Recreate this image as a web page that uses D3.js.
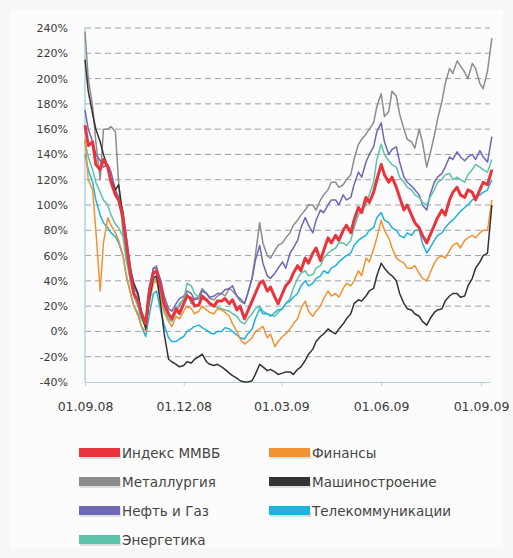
<!DOCTYPE html>
<html>
<head>
<meta charset="utf-8">
<script src="https://cdn.jsdelivr.net/npm/d3@7"></script>
<style>
  body { margin: 0; background: #f8f7f6; }
  svg { display: block; font-family: "DejaVu Sans", Verdana, sans-serif; }
</style>
</head>
<body>
<svg id="chart" width="513" height="558"></svg>
<script>
// Twice-weekly dates (Mon / Thu), last one is the final day on the chart
const dates = [
    '2008-09-01','2008-09-04','2008-09-08','2008-09-11','2008-09-15','2008-09-18','2008-09-22','2008-09-25','2008-09-29','2008-10-02',
    '2008-10-06','2008-10-09','2008-10-13','2008-10-16','2008-10-20','2008-10-23','2008-10-27','2008-10-30','2008-11-03','2008-11-06',
    '2008-11-10','2008-11-13','2008-11-17','2008-11-20','2008-11-24','2008-11-27','2008-12-01','2008-12-04','2008-12-08','2008-12-11',
    '2008-12-15','2008-12-18','2008-12-22','2008-12-25','2008-12-29','2009-01-01','2009-01-05','2009-01-08','2009-01-12','2009-01-15',
    '2009-01-19','2009-01-22','2009-01-26','2009-01-29','2009-02-02','2009-02-05','2009-02-09','2009-02-12','2009-02-16','2009-02-19',
    '2009-02-23','2009-02-26','2009-03-02','2009-03-05','2009-03-09','2009-03-12','2009-03-16','2009-03-19','2009-03-23','2009-03-26',
    '2009-03-30','2009-04-02','2009-04-06','2009-04-09','2009-04-13','2009-04-16','2009-04-20','2009-04-23','2009-04-27','2009-04-30',
    '2009-05-04','2009-05-07','2009-05-11','2009-05-14','2009-05-18','2009-05-21','2009-05-25','2009-05-28','2009-06-01','2009-06-04',
    '2009-06-08','2009-06-11','2009-06-15','2009-06-18','2009-06-22','2009-06-25','2009-06-29','2009-07-02','2009-07-06','2009-07-09',
    '2009-07-13','2009-07-16','2009-07-20','2009-07-23','2009-07-27','2009-07-30','2009-08-03','2009-08-06','2009-08-10','2009-08-13',
    '2009-08-17','2009-08-20','2009-08-24','2009-08-27','2009-08-31','2009-09-03','2009-09-07','2009-09-11'];

const micex = [
    163,147, 150,132, 128,136, 130,118, 108,104, 90,70, 45,30, 24,14, 6,30, 46,48,
    34,22, 14,10, 18,14, 22,28, 26,20, 21,28, 25,22, 20,24, 24,26, 22,25,
    17,20, 10,16, 24,30, 38,40, 32,35, 27,22, 30,36, 40,46, 52,48, 58,54,
    62,66, 56,64, 74,70, 76,72, 80,84, 78,88, 98,94, 106,102, 110,120, 132,124,
    118,122, 114,106, 96,100, 92,86, 82,76, 70,76, 84,90, 96,92, 104,110, 114,108,
    106,112, 110,104, 112,118,
    116, 128];
const finance = [
    152,120, 112,80, 32,70, 90,84, 78,72, 60,45, 30,20, 12,4, 0,22, 38,40,
    25,15, 8,4, 12,10, 16,20, 18,14, 16,20, 17,15, 14,18, 17,15, 12,6,
    0,-6, -10,-8, -5,0, 2,4, -5,-2, -12,-8, -4,-2, 2,6, 10,18, 24,16,
    12,16, 20,26, 32,28, 30,27, 34,38, 36,40, 48,44, 58,55, 65,74, 88,80,
    74,66, 58,56, 54,50, 50,52, 46,42, 40,46, 54,58, 60,58, 64,68, 70,66,
    72,74, 76,74, 78,80,
    80, 104];
const metals = [
    237,200, 178,150, 120,160, 160,162, 158,118, 78,60, 40,28, 20,10, 4,28, 50,52,
    32,20, 10,8, 16,20, 26,30, 22,26, 28,34, 30,26, 25,28, 30,28, 34,32,
    28,24, 22,30, 42,60, 86,70, 60,58, 64,68, 70,74, 78,84, 88,92, 96,100,
    100,96, 104,108, 112,118, 118,114, 116,120, 124,136, 148,152, 156,160, 165,178, 188,170,
    174,190, 186,172, 160,152, 150,145, 160,150, 130,140, 155,168, 182,196, 208,204, 214,210,
    205,200, 212,208, 196,192,
    206, 232];
const machinery = [
    215,190, 172,160, 150,140, 130,120, 112,116, 92,70, 48,38, 30,14, 2,24, 42,44,
    20,-2, -22,-24, -26,-28, -27,-24, -25,-22, -20,-18, -24,-26, -27,-26, -28,-30, -33,-35,
    -37,-39, -40,-40, -39,-34, -26,-28, -31,-30, -32,-34, -33,-32, -32,-34, -30,-28, -23,-18,
    -14,-8, -4,-2, 2,0, -2,2, 6,10, 14,22, 25,24, 28,32, 34,44, 54,50,
    46,44, 40,30, 22,18, 17,14, 12,8, 5,10, 15,17, 18,24, 28,30, 30,27,
    28,36, 42,50, 55,60,
    62, 100];
const oilGas = [
    175,160, 150,140, 135,130, 132,126, 112,106, 95,76, 50,36, 28,16, 8,34, 50,50,
    40,28, 18,16, 22,26, 28,32, 30,25, 26,32, 30,27, 28,30, 30,33, 34,36,
    28,26, 22,30, 42,56, 68,54, 44,42, 46,50, 55,50, 62,66, 72,82, 90,84,
    78,88, 96,94, 100,104, 104,100, 108,104, 106,116, 126,122, 134,140, 146,158, 165,150,
    140,144, 146,134, 122,118, 115,112, 108,100, 96,108, 118,122, 125,130, 138,136, 142,138,
    135,138, 140,136, 143,138,
    134, 154];
const telecom = [
    140,128, 118,104, 92,86, 82,78, 75,70, 60,44, 30,20, 14,4, -4,12, 30,32,
    15,5, -5,-8, -8,-6, -4,0, 2,4, 5,3, 1,-1, -2,0, 0,3, 2,0,
    -3,-5, -6,-2, 2,10, 18,14, 14,12, 15,17, 18,22, 24,27, 30,36, 40,36,
    38,42, 44,48, 46,50, 52,55, 58,60, 62,68, 72,74, 76,80, 82,90, 94,88,
    86,82, 80,76, 74,78, 76,80, 80,70, 62,66, 72,76, 78,82, 86,88, 92,95,
    98,100, 104,106, 108,110,
    112, 120];
const energy = [
    150,138, 128,118, 110,104, 100,92, 85,82, 75,56, 40,28, 20,10, 4,22, 40,42,
    28,18, 10,8, 15,22, 25,38, 36,30, 27,26, 24,22, 20,19, 18,17, 16,14,
    12,8, 6,10, 14,18, 20,16, 14,13, 12,15, 18,22, 26,34, 42,46, 48,44,
    45,50, 52,58, 62,64, 66,70, 70,68, 72,82, 92,96, 100,108, 118,136, 148,140,
    135,132, 130,122, 118,114, 112,108, 106,102, 100,106, 112,118, 120,124, 125,120, 122,120,
    118,124, 128,132, 130,128,
    126, 136];

const seriesNames = ['Индекс ММВБ','Финансы','Металлургия','Машиностроение','Нефть и Газ','Телекоммуникации','Энергетика'];
const seriesColors = ['#e8343c','#f39233','#8c8c8c','#333333','#6c68b4','#1fb2dc','#5cc2aa'];
const yTicks = [-40,-20,0,20,40,60,80,100,120,140,160,180,200,220,240];
const xTicks = ['2008-09-01','2008-12-01','2009-03-01','2009-06-01','2009-09-01'];

const parse = d3.timeParse('%Y-%m-%d');
const seriesValues = [micex, finance, metals, machinery, oilGas, telecom, energy];
const series = seriesNames.map((name, i) => ({
    name: name,
    color: seriesColors[i],
    points: dates.map((d, j) => ({ date: parse(d), value: seriesValues[i][j] }))
}));

const svg = d3.select('#chart');

// plot frame
const plotLeft = 85, plotRight = 490, plotTop = 28, plotBottom = 382;

svg.append('rect')
    .attr('x', 10).attr('y', 10).attr('width', 493).attr('height', 538)
    .attr('fill', '#fcfcfc');

const x = d3.scaleTime()
    .domain([parse('2008-09-01'), parse('2009-09-01')])
    .range([plotLeft, 481]);

const y = d3.scaleLinear()
    .domain([-40, 240])
    .range([plotBottom, plotTop]);

// dashed grid
svg.append('g')
    .selectAll('line')
    .data(yTicks.filter(t => t > -40))
    .join('line')
    .attr('x1', plotLeft).attr('x2', plotRight)
    .attr('y1', d => y(d)).attr('y2', d => y(d))
    .attr('stroke', '#97a2ab')
    .attr('stroke-width', 1)
    .attr('stroke-dasharray', '6,4');

// y labels
svg.append('g')
    .selectAll('text')
    .data(yTicks)
    .join('text')
    .attr('x', 68)
    .attr('y', d => y(d))
    .attr('dy', '0.36em')
    .attr('text-anchor', 'end')
    .attr('font-size', 11)
    .attr('fill', '#3a3a3a')
    .text(d => d + '%');

// axes lines
svg.append('line')
    .attr('x1', plotLeft).attr('x2', plotLeft).attr('y1', plotTop).attr('y2', plotBottom)
    .attr('stroke', '#a8d4e4').attr('stroke-width', 1.5);

const xAxis = svg.append('g')
    .attr('transform', `translate(0,${plotBottom})`)
    .call(d3.axisBottom(x)
        .tickValues(xTicks.map(parse))
        .tickSize(4)
        .tickFormat(d3.timeFormat('%d.%m.%y')));
xAxis.select('.domain').attr('stroke', '#b4cdd8').attr('d', `M${plotLeft},0.5H${plotRight}`);
xAxis.selectAll('.tick line').attr('stroke', '#b4cdd8');
xAxis.selectAll('.tick text')
    .attr('font-size', 12.5)
    .attr('fill', '#3a3a3a')
    .attr('font-family', '"DejaVu Sans", Verdana, sans-serif')
    .attr('y', 20);

// lines
const line = d3.line()
    .x(d => x(d.date))
    .y(d => y(d.value));

// draw order: thin lines first, index on top
const order = [2, 4, 6, 5, 1, 3, 0];
svg.append('g')
    .selectAll('path')
    .data(order.map(i => series[i]))
    .join('path')
    .attr('fill', 'none')
    .attr('stroke', d => d.color)
    .attr('stroke-width', d => d.name === 'Индекс ММВБ' ? 3 : 1.5)
    .attr('stroke-linejoin', 'round')
    .attr('d', d => line(d.points));

// legend
const legendPos = [[79, 453], [269, 453], [79, 482], [269, 482], [79, 511], [269, 511], [79, 540]];
const legend = svg.append('g')
    .selectAll('g')
    .data(series)
    .join('g')
    .attr('transform', (d, i) => `translate(${legendPos[i][0]},${legendPos[i][1]})`);

legend.append('rect')
    .attr('x', 1).attr('y', -3).attr('width', 41).attr('height', 9)
    .attr('fill', '#ccc').attr('opacity', 0.6);
legend.append('rect')
    .attr('x', 0).attr('y', -5).attr('width', 41).attr('height', 9)
    .attr('fill', d => d.color);
legend.append('text')
    .attr('x', 43)
    .attr('dy', '0.36em')
    .attr('font-size', 13.5)
    .attr('fill', '#444')
    .text(d => d.name);
</script>
</body>
</html>
